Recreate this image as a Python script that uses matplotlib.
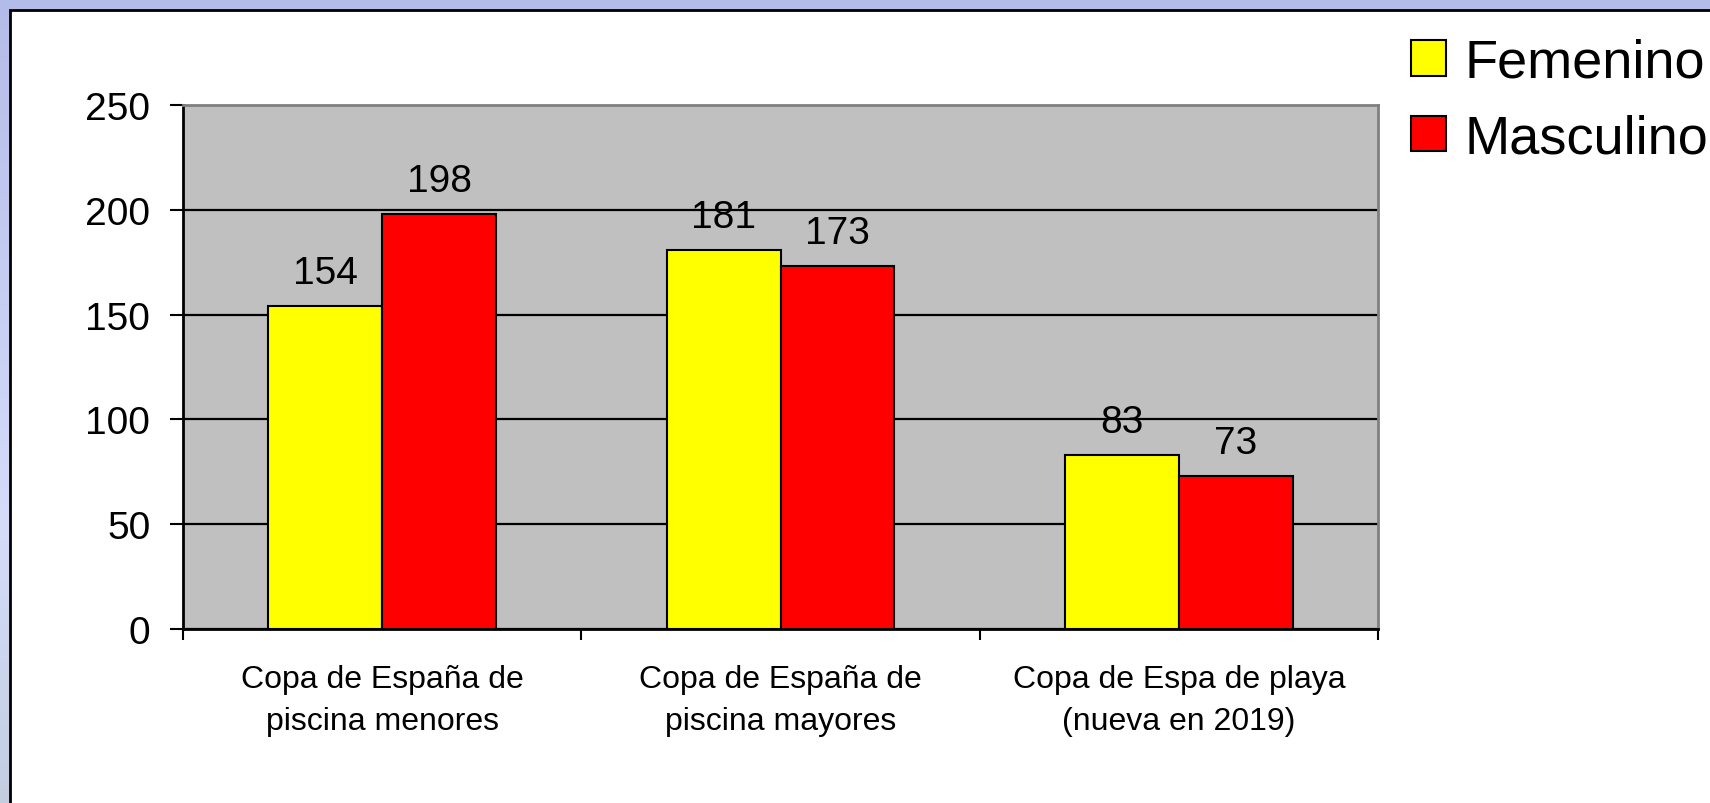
import numpy as np
import matplotlib.pyplot as plt
from matplotlib.patches import Rectangle
from matplotlib.colors import LinearSegmentedColormap

plt.rcParams['font.family'] = ['Liberation Sans', 'DejaVu Sans']

# datos
categorias = ["Copa de España de\npiscina menores",
              "Copa de España de\npiscina mayores",
              "Copa de Espa de playa\n(nueva en 2019)"]
femenino = [154, 181, 83]
masculino = [198, 173, 73]
series = ["Femenino", "Masculino"]
yticks = [0, 50, 100, 150, 200, 250]

fig = plt.figure(figsize=(17.1, 8.04), dpi=100)

# fondo lila con degradado y panel blanco con marco negro
bg = fig.add_axes([0, 0, 1, 1], zorder=-10)
cmap = LinearSegmentedColormap.from_list(
    "fondo", [(0, "#b3bce8"), (0.65, "#d5dcfa"), (1, "#c2cee0")])
bg.imshow(np.linspace(0, 1, 256).reshape(-1, 1), cmap=cmap, aspect="auto",
          extent=[0, 1, 0, 1], origin="upper")
W, H = 1710, 804
bg.add_patch(Rectangle((10 / W, -0.1), 1.2, (H - 11) / H + 0.1,
                       facecolor="white", edgecolor="black", linewidth=2))
bg.set_xlim(0, 1)
bg.set_ylim(0, 1)
bg.axis("off")

ax = fig.add_axes([183 / W, 1 - 630 / H, (1378 - 183) / W, (630 - 106) / H])
ax.set_facecolor("#c0c0c0")

x = np.arange(len(categorias))
w = 0.286
b1 = ax.bar(x - w / 2, femenino, w, color="#ffff00", edgecolor="black",
            linewidth=1.5, label=series[0], zorder=3)
b2 = ax.bar(x + w / 2, masculino, w, color="#ff0000", edgecolor="black",
            linewidth=1.5, label=series[1], zorder=3)

for bars, vals in ((b1, femenino), (b2, masculino)):
    for r, v in zip(bars, vals):
        ax.annotate(str(v), (r.get_x() + r.get_width() / 2, v),
                    xytext=(0, 16.5), textcoords="offset points",
                    ha="center", va="baseline", fontsize=28, zorder=4)

ax.set_xlim(-0.5, len(categorias) - 0.5)
ax.set_ylim(0, 250)
ax.set_yticks(yticks)
ax.yaxis.grid(True, color="black", linewidth=1.6, zorder=1)
ax.set_axisbelow(True)
ax.tick_params(axis="y", labelsize=28, length=9.5, width=1.5, pad=14,
               direction="out")

ax.set_xticks(x)
ax.set_xticklabels(categorias, fontsize=23, linespacing=1.55)
ax.tick_params(axis="x", which="major", length=0, pad=25)
ax.set_xticks(np.arange(len(categorias) + 1) - 0.5, minor=True)
ax.tick_params(axis="x", which="minor", length=8, width=1.5, direction="out")

for s in ("left", "bottom"):
    ax.spines[s].set_color("black")
    ax.spines[s].set_linewidth(2)
for s in ("top", "right"):
    ax.spines[s].set_color("#808080")
    ax.spines[s].set_linewidth(2)

fig.legend(handles=[b1, b2], labels=series, loc="upper left",
           bbox_to_anchor=(1411 / W, 1 - 39 / H), frameon=False,
           fontsize=39, handlelength=0.64, handleheight=0.64,
           handletextpad=0.35, labelspacing=0.47, borderpad=0,
           borderaxespad=0)

fig.savefig("out.png", dpi=100)
